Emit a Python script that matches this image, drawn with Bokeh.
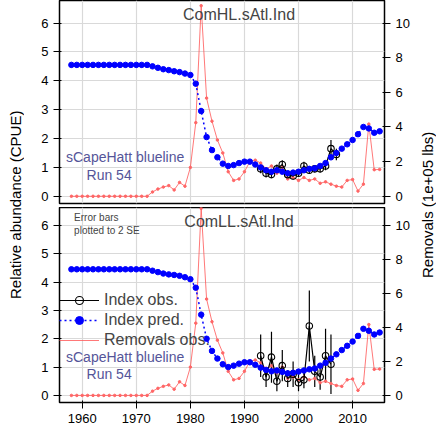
from bokeh.plotting import figure
from bokeh.models import Range1d, LinearAxis, Label, Legend, LegendItem, Whisker, ColumnDataSource, Div, FixedTicker
from bokeh.layouts import column, row
from bokeh.embed import file_html
from bokeh.resources import INLINE

years = list(range(1958, 2016))
pred_top = [4.55]*15 + [4.5, 4.45, 4.4, 4.37, 4.33, 4.3, 4.25, 4.2, 3.9, 2.95, 2.05, 1.6, 1.35, 1.13, 1.05, 1.08, 1.15, 1.2, 1.2, 1.1, 1.0, 0.9, 0.85, 0.9, 0.85, 0.8, 0.82, 0.85, 0.9, 0.95, 0.97, 1.05, 1.15, 1.35, 1.5, 1.65, 1.8, 1.95, 2.15, 2.4, 2.35, 2.2, 2.25]
pred_bot = [4.45]*15 + [4.4, 4.35, 4.3, 4.27, 4.25, 4.22, 4.17, 4.1, 3.8, 2.85, 2.0, 1.57, 1.3, 1.1, 1.0, 1.05, 1.12, 1.17, 1.17, 1.08, 0.98, 0.9, 0.85, 0.88, 0.83, 0.78, 0.8, 0.84, 0.88, 0.92, 0.95, 1.05, 1.15, 1.3, 1.45, 1.6, 1.75, 1.9, 2.1, 2.35, 2.28, 2.15, 2.22]
removals_cpue = [0.0]*15 + [0.15, 0.25, 0.32, 0.37, 0.22, 0.48, 0.35, 1.0, 2.55, 6.6, 3.4, 2.6, 1.95, 1.5, 0.85, 0.55, 0.6, 0.85, 1.2, 1.25, 1.15, 0.95, 1.05, 0.8, 1.0, 0.6, 0.65, 0.55, 0.65, 0.55, 0.6, 0.45, 0.5, 0.42, 0.35, 0.32, 0.55, 0.58, 0.18, 0.42, 2.5, 0.92, 0.93]
removals = [v * 10 / 6 for v in removals_cpue]  # 1e+05 lbs

obs_years_top = list(range(1993, 2008))
obs_top = [0.95, 0.8, 0.75, 0.95, 1.1, 0.75, 0.7, 0.8, 1.05, 0.9, 0.95, 0.95, 1.05, 1.65, 1.45]
se2_top = [0.15, 0.15, 0.12, 0.15, 0.15, 0.12, 0.12, 0.12, 0.15, 0.12, 0.12, 0.12, 0.15, 0.3, 0.2]
obs_years_bot = list(range(1993, 2007))
obs_bot = [1.4, 0.65, 1.35, 0.5, 1.05, 0.6, 0.75, 0.45, 0.55, 2.45, 0.85, 0.65, 1.4, 1.1]
se2_bot = [0.75, 0.35, 0.9, 0.35, 0.55, 0.3, 0.45, 0.3, 0.3, 1.25, 0.55, 0.45, 0.95, 1.05]

FONT = "Liberation Sans"

def panel(title, pred, oy, obs, se, h, ymax, bottom, legend):
    p = figure(width=380, height=h, output_backend="svg", toolbar_location=None,
               x_range=Range1d(1955.8, 2015.9), y_range=Range1d(-0.25, ymax),
               min_border_left=27, min_border_right=22, min_border_top=0,
               min_border_bottom=(20 if bottom else 4))
    p.extra_y_ranges = {"rem": Range1d(-0.25 * 10 / 6, ymax * 10 / 6)}
    ax = LinearAxis(y_range_name="rem", ticker=FixedTicker(ticks=[0, 2, 4, 6, 8, 10]))
    p.add_layout(ax, "right")
    for a in [p.yaxis[0], ax] + ([p.xaxis[0]] if bottom else []):
        a.major_label_text_font = FONT
        a.major_label_text_font_size = "13px"
        a.major_label_text_color = "black"
        a.axis_line_color = None
        a.minor_tick_line_color = None
        a.major_tick_line_color = "black"
    p.yaxis[0].ticker = FixedTicker(ticks=[0, 1, 2, 3, 4, 5, 6])
    p.xaxis.ticker = FixedTicker(ticks=[1960, 1970, 1980, 1990, 2000, 2010])
    if not bottom:
        p.xaxis.visible = False
    p.outline_line_color = "black"
    p.outline_line_width = 1.5
    p.grid.grid_line_color = "#d9d9d9"
    p.grid.grid_line_width = 1.2
    r_rem = p.line(years, removals, y_range_name="rem", color="#ff5555", line_width=0.8)
    p.scatter(years, removals, y_range_name="rem", color="#ff6666", size=2.5)
    src = ColumnDataSource(dict(x=oy, y=obs, lo=[a - b for a, b in zip(obs, se)], hi=[a + b for a, b in zip(obs, se)]))
    p.add_layout(Whisker(source=src, base="x", lower="lo", upper="hi", line_color="black", line_width=1.2,
                         upper_head=None, lower_head=None))
    r_obs_l = p.line("x", "y", source=src, color="black", line_width=1.2)
    r_obs = p.scatter("x", "y", source=src, fill_color=None, line_color="black", size=6.5, line_width=1.1)
    r_pred_l = p.line(years, pred, color="blue", line_dash="2 3", line_width=1.5)
    r_pred = p.scatter(years, pred, color="blue", size=5.5)
    p.add_layout(Label(x=1989, y=ymax - 0.2, text=title, text_align="center", text_baseline="top",
                       text_font=FONT, text_font_size="16px"))
    p.add_layout(Label(x=1957, y=1.35, text="sCapeHatt blueline", text_baseline="middle",
                       text_font=FONT, text_font_size="14px", text_color="#555599"))
    p.add_layout(Label(x=1960.8, y=0.75, text="Run 54", text_baseline="middle",
                       text_font=FONT, text_font_size="14px", text_color="#555599"))
    if legend:
        p.add_layout(Label(x=1958.5, y=ymax - 0.15, text="Error bars\nplotted to 2 SE", text_baseline="top",
                           text_font=FONT, text_font_size="10px"))
        lg = Legend(items=[LegendItem(label="Index obs.", renderers=[r_obs_l, r_obs]),
                           LegendItem(label="Index pred.", renderers=[r_pred_l, r_pred]),
                           LegendItem(label="Removals obs.", renderers=[r_rem])],
                    location=(0, 52), background_fill_alpha=0, border_line_color=None,
                    label_text_font=FONT, label_text_font_size="16px", spacing=-3,
                    glyph_width=40, padding=0, margin=0)
        p.add_layout(lg)
    return p

p1 = panel("ComHL.sAtl.Ind", pred_top, obs_years_top, obs_top, se2_top, 207, 6.78, False, False)
p2 = panel("ComLL.sAtl.Ind", pred_bot, obs_years_bot, obs_bot, se2_bot, 218, 6.63, True, True)

lab_style = {"writing-mode": "vertical-rl", "transform": "rotate(180deg)", "white-space": "nowrap",
             "font-family": FONT, "font-size": "15px", "text-align": "center"}
d1 = Div(text="Relative abundance (CPUE)", width=22, height=400, styles=lab_style)
d2 = Div(text="Removals (1e+05 lbs)", width=20, height=400, styles=lab_style)
layout = row(d1, column(p1, p2, spacing=0), d2, spacing=0)
open("out.html", "w").write(file_html(layout, INLINE))
